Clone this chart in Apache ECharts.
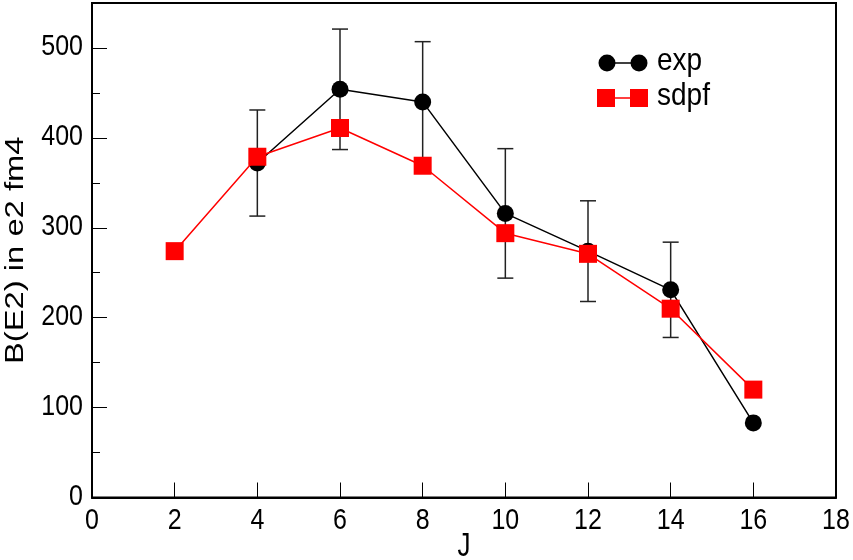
<!DOCTYPE html>
<html>
<head>
<meta charset="utf-8">
<script src="https://cdn.jsdelivr.net/npm/echarts@6/dist/echarts.min.js"></script>
<style>
html,body{margin:0;padding:0;background:#fff;}
#chart{width:853px;height:560px;}
</style>
</head>
<body>
<div id="chart"></div>
<script>
// Data
var sdpfJ = [2, 4, 6, 8, 10, 12, 14, 16];
var sdpfVal = [274, 379, 411, 369, 294, 271, 210, 120];
var expJ = [4, 6, 8, 10, 12, 14, 16];
var expVal = [372, 454, 440, 316, 274, 231, 83];
var expErr = [59, 67, 67, 72, 56, 53, 0];
var xTicks = [0, 2, 4, 6, 8, 10, 12, 14, 16, 18];
var yTicks = [0, 100, 200, 300, 400, 500];
var legendNames = ['exp', 'sdpf'];
var xName = 'J';
var yName = 'B(E2) in e2 fm4';

var FONT = '"Liberation Sans", Arial, sans-serif';
var SY = 1.2; // vertical stretch of the reference text
var chart = echarts.init(document.getElementById('chart'), null, {renderer: 'canvas'});

var sdpfData = sdpfJ.map(function (j, i) { return [j, sdpfVal[i]]; });
var expData = expJ.map(function (j, i) { return [j, expVal[i]]; });
var errData = expJ.map(function (j, i) { return [j, expVal[i] - expErr[i], expVal[i] + expErr[i]]; })
  .filter(function (d) { return d[2] > d[1]; });

var option = {
  animation: false,
  backgroundColor: '#fff',
  grid: {left: 92, right: 17, top: 3, bottom: 62.5, show: true, borderColor: '#000', borderWidth: 2,
         backgroundColor: 'transparent', containLabel: false, outerBoundsMode: 'none'},
  xAxis: {
    type: 'value', min: 0, max: 18, interval: 2,
    axisLine: {show: true, lineStyle: {color: '#000', width: 2}},
    axisTick: {show: true, inside: true, length: 15, lineStyle: {color: '#000', width: 1}},
    axisLabel: {show: false},
    splitLine: {show: false}
  },
  yAxis: {
    type: 'value', min: 0, max: 550, interval: 100,
    axisLine: {show: true, lineStyle: {color: '#000', width: 2}},
    axisTick: {show: true, inside: true, length: 15, lineStyle: {color: '#000', width: 1}},
    minorTick: {show: true, splitNumber: 2, length: 8, lineStyle: {color: '#000', width: 1}},
    axisLabel: {show: false},
    splitLine: {show: false}
  },
  series: [
    {
      type: 'custom',
      name: 'err',
      data: errData,
      z: 1,
      renderItem: function (params, api) {
        var x = api.value(0);
        var lo = api.coord([x, api.value(1)]);
        var hi = api.coord([x, api.value(2)]);
        var hw = 8;
        var st = {stroke: '#222', lineWidth: 1.5};
        return {
          type: 'group',
          children: [
            {type: 'line', shape: {x1: lo[0], y1: lo[1], x2: hi[0], y2: hi[1]}, style: st},
            {type: 'line', shape: {x1: lo[0] - hw, y1: lo[1], x2: lo[0] + hw, y2: lo[1]}, style: st},
            {type: 'line', shape: {x1: hi[0] - hw, y1: hi[1], x2: hi[0] + hw, y2: hi[1]}, style: st}
          ]
        };
      }
    },
    {
      type: 'line', name: 'exp', data: expData, z: 2,
      symbol: 'circle', symbolSize: 17,
      lineStyle: {color: '#000', width: 1.5},
      itemStyle: {color: '#000'}
    },
    {
      type: 'line', name: 'sdpf', data: sdpfData, z: 3,
      symbol: 'rect', symbolSize: 18,
      lineStyle: {color: '#ff0000', width: 1.5},
      itemStyle: {color: '#ff0000'}
    }
  ]
};
chart.setOption(option);

function txt(text, x, y, size, align, vAlign, sx, sy, rot) {
  return {
    type: 'text', x: x, y: y, scaleX: sx, scaleY: sy, rotation: rot || 0, z: 10,
    style: {text: text, x: 0, y: 0, fontFamily: FONT, fontSize: size, fill: '#000',
            align: align, verticalAlign: vAlign}
  };
}

var g = [];
xTicks.forEach(function (v) {
  var px = chart.convertToPixel({xAxisIndex: 0}, v);
  g.push(txt(String(v), px, 521, 25, 'center', 'middle', 1, SY));
});
yTicks.forEach(function (v) {
  var py = chart.convertToPixel({yAxisIndex: 0}, v);
  g.push(txt(String(v), 83, py - 1, 25, 'right', 'middle', 1, SY));
});
var midX = (chart.convertToPixel({xAxisIndex: 0}, 0) + chart.convertToPixel({xAxisIndex: 0}, 18)) / 2;
var midY = (chart.convertToPixel({yAxisIndex: 0}, 0) + chart.convertToPixel({yAxisIndex: 0}, 550)) / 2;
g.push(txt(xName, midX, 547, 26, 'center', 'middle', 1, 1.25));
g.push(txt(yName, 16, midY, 26, 'center', 'middle', 1.26, 1, Math.PI / 2));

// legend
g.push({type: 'line', shape: {x1: 607, y1: 63, x2: 639, y2: 63}, style: {stroke: '#000', lineWidth: 1.5}});
g.push({type: 'circle', shape: {cx: 607, cy: 63, r: 8.5}, style: {fill: '#000'}});
g.push({type: 'circle', shape: {cx: 639, cy: 63, r: 8.5}, style: {fill: '#000'}});
g.push(txt(legendNames[0], 657, 62, 28, 'left', 'middle', 1, 1.1));
g.push({type: 'line', shape: {x1: 606, y1: 98, x2: 639, y2: 98}, style: {stroke: '#ff0000', lineWidth: 1.5}});
g.push({type: 'rect', shape: {x: 597, y: 89, width: 18, height: 18}, style: {fill: '#ff0000'}});
g.push({type: 'rect', shape: {x: 630, y: 89, width: 18, height: 18}, style: {fill: '#ff0000'}});
g.push(txt(legendNames[1], 657, 97, 28, 'left', 'middle', 1, 1.1));

chart.setOption({graphic: g});
</script>
</body>
</html>
